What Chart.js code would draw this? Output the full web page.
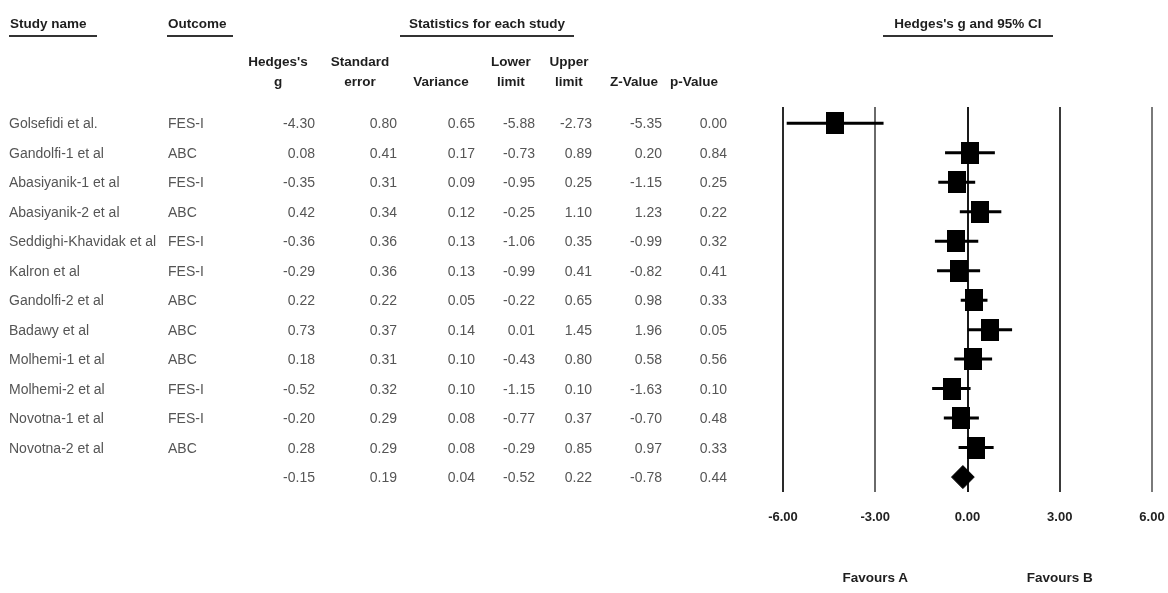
<!DOCTYPE html>
<html>
<head>
<meta charset="utf-8">
<script src="https://cdn.jsdelivr.net/npm/chart.js@4.4.1/dist/chart.umd.min.js"></script>
<style>
html,body{margin:0;padding:0;background:#fff;}
#wrap{position:relative;width:1168px;height:593px;overflow:hidden;font-family:"Liberation Sans",Arial,sans-serif;}
#c{position:absolute;left:0;top:0;}
.t{position:absolute;white-space:nowrap;line-height:1;}
.body{font-size:14px;color:#555;}
.hd{font-size:13.5px;font-weight:bold;color:#1e1e1e;}
.ul{position:absolute;height:2px;background:#333;}
</style>
</head>
<body>
<div id="wrap">
<canvas id="c" width="1168" height="593"></canvas>
</div>
<script>
// ---- data ----
const studies = ["Golsefidi et al.", "Gandolfi-1 et al", "Abasiyanik-1 et al", "Abasiyanik-2 et al",
  "Seddighi-Khavidak et al", "Kalron et al", "Gandolfi-2 et al", "Badawy et al",
  "Molhemi-1 et al", "Molhemi-2 et al", "Novotna-1 et al", "Novotna-2 et al"];
const outcomes = ["FES-I", "ABC", "FES-I", "ABC", "FES-I", "FES-I", "ABC", "ABC", "ABC", "FES-I", "FES-I", "ABC"];
// last entry of each numeric array = pooled summary row
const hedgesG      = [-4.30, 0.08, -0.35, 0.42, -0.36, -0.29, 0.22, 0.73, 0.18, -0.52, -0.20, 0.28, -0.15];
const standardError= [ 0.80, 0.41,  0.31, 0.34,  0.36,  0.36, 0.22, 0.37, 0.31,  0.32,  0.29, 0.29,  0.19];
const varianceVals = [ 0.65, 0.17,  0.09, 0.12,  0.13,  0.13, 0.05, 0.14, 0.10,  0.10,  0.08, 0.08,  0.04];
const lowerLimit   = [-5.88,-0.73, -0.95,-0.25, -1.06, -0.99,-0.22, 0.01,-0.43, -1.15, -0.77,-0.29, -0.52];
const upperLimit   = [-2.73, 0.89,  0.25, 1.10,  0.35,  0.41, 0.65, 1.45, 0.80,  0.10,  0.37, 0.85,  0.22];
const zValue       = [-5.35, 0.20, -1.15, 1.23, -0.99, -0.82, 0.98, 1.96, 0.58, -1.63, -0.70, 0.97, -0.78];
const pValue       = [ 0.00, 0.84,  0.25, 0.22,  0.32,  0.41, 0.33, 0.05, 0.56,  0.10,  0.48, 0.33,  0.44];
const xTicks = [-6, -3, 0, 3, 6];
const tickLabels = ["-6.00", "-3.00", "0.00", "3.00", "6.00"];
const favourLabels = ["Favours A", "Favours B"];

// ---- marks ----
const nStudies = studies.length;
const sq = document.createElement('canvas');
sq.width = 18; sq.height = 22;
const sctx = sq.getContext('2d'); sctx.fillStyle = '#000'; sctx.fillRect(0, 0, 18, 22);

const datasets = [];
datasets.push({
  label: 'g',
  data: hedgesG.slice(0, nStudies).map((g, i) => ({x: g, y: i})),
  pointStyle: sq, pointRadius: 10, showLine: false
});
for (let i = 0; i < nStudies; i++) {
  datasets.push({
    label: 'ci' + i,
    data: [{x: lowerLimit[i], y: i}, {x: upperLimit[i], y: i}],
    showLine: true, borderColor: '#000', borderWidth: 3, pointRadius: 0, fill: false
  });
}
const s = nStudies, dh = 0.39;
datasets.push({
  label: 'pooled',
  data: [{x: lowerLimit[s], y: s}, {x: hedgesG[s], y: s - dh}, {x: upperLimit[s], y: s},
         {x: hedgesG[s], y: s + dh}, {x: lowerLimit[s], y: s}],
  showLine: true, borderColor: '#000', backgroundColor: '#000', borderWidth: 1,
  pointRadius: 0, fill: 'shape', tension: 0
});

const gridColors = {"-6": "#2a2a2a", "-3": "#6a6a6a", "0": "#1a1a1a", "3": "#3a3a3a", "6": "#7a7a7a"};

const chart = new Chart(document.getElementById('c'), {
  type: 'scatter',
  data: {datasets},
  options: {
    responsive: false, animation: false,
    layout: {padding: {left: 783, right: 16, top: 107, bottom: 51}},
    plugins: {legend: {display: false}, tooltip: {enabled: false}},
    scales: {
      x: {
        type: 'linear', min: -6, max: 6,
        afterBuildTicks: (ax) => { ax.ticks = xTicks.map(v => ({value: v})); },
        afterFit: (ax) => { ax.paddingLeft = 0; ax.paddingRight = 0; },
        ticks: {
          padding: 17, color: '#222', font: {family: 'Liberation Sans', size: 13, weight: 'bold'},
          callback: (v) => tickLabels[xTicks.indexOf(v)], maxRotation: 0, autoSkip: false
        },
        grid: {drawTicks: false, lineWidth: 2, color: (ctx) => gridColors[String(ctx.tick && ctx.tick.value)] || '#333'},
        border: {display: false}
      },
      y: {type: 'linear', reverse: true, min: -0.55, max: 12.52, display: false}
    }
  }
});

// ---- table (text) ----
const wrap = document.getElementById('wrap');
function txt(str, x, y, cls, align) {
  const d = document.createElement('div');
  d.className = 't ' + cls;
  d.textContent = str;
  d.style.left = x + 'px'; d.style.top = y + 'px';
  const tx = align === 'right' ? '-100%' : (align === 'center' ? '-50%' : '0');
  d.style.transform = 'translate(' + tx + ',-50%)';
  wrap.appendChild(d);
  return d;
}
function uline(x1, x2, y) {
  const d = document.createElement('div'); d.className = 'ul';
  d.style.left = x1 + 'px'; d.style.width = (x2 - x1) + 'px'; d.style.top = y + 'px';
  wrap.appendChild(d);
}
// main headers
txt("Study name", 10, 24, 'hd', 'left'); uline(9, 97, 35);
txt("Outcome", 168, 24, 'hd', 'left'); uline(167, 233, 35);
txt("Statistics for each study", 487, 24, 'hd', 'center'); uline(400, 574, 35);
txt("Hedges's g and 95% CI", 968, 24, 'hd', 'center'); uline(883, 1053, 35);
// sub headers
const subHeads = [["Hedges's", "g", 278], ["Standard", "error", 360], ["", "Variance", 441],
  ["Lower", "limit", 511], ["Upper", "limit", 569], ["", "Z-Value", 634], ["", "p-Value", 694]];
subHeads.forEach(([a, b, cx]) => {
  if (a) txt(a, cx, 62, 'hd', 'center');
  txt(b, cx, 82, 'hd', 'center');
});
// rows
const colRight = [315, 397, 475, 535, 592, 662, 727];
const cols = [hedgesG, standardError, varianceVals, lowerLimit, upperLimit, zValue, pValue];
const ys = chart.scales.y;
for (let i = 0; i <= nStudies; i++) {
  const y = ys.getPixelForValue(i);
  if (i < nStudies) {
    txt(studies[i], 9, y, 'body', 'left');
    txt(outcomes[i], 168, y, 'body', 'left');
  }
  cols.forEach((arr, k) => txt(arr[i].toFixed(2), colRight[k], y, 'body', 'right'));
}
// favours labels under the axis
const xs = chart.scales.x;
txt(favourLabels[0], xs.getPixelForValue(-3), 578, 'hd', 'center');
txt(favourLabels[1], xs.getPixelForValue(3), 578, 'hd', 'center');
</script>
</body>
</html>
